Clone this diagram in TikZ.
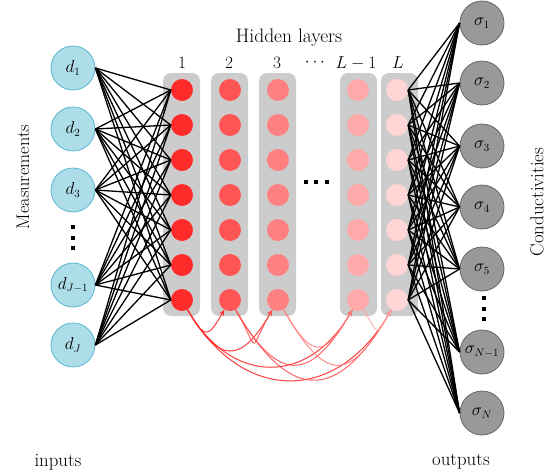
\documentclass[tikz,border=0pt]{standalone}
\usetikzlibrary{arrows.meta}
\definecolor{inblue}{RGB}{173,221,232}
\definecolor{inedge}{RGB}{91,183,210}
\definecolor{outgrey}{RGB}{153,153,153}
\definecolor{outedge}{RGB}{102,102,102}
\definecolor{colgrey}{RGB}{204,204,204}
\definecolor{hA}{RGB}{255,42,42}
\definecolor{hB}{RGB}{255,85,85}
\definecolor{hC}{RGB}{255,128,128}
\definecolor{hD}{RGB}{255,170,170}
\definecolor{hE}{RGB}{255,213,213}
\begin{document}
\begin{tikzpicture}[x=1pt,y=1pt]
\tikzstyle{every node}+=[font=\fontsize{16}{19}\selectfont]
\tikzstyle{innode}=[circle,draw=inedge,fill=inblue,minimum size=44pt,inner sep=0pt,line width=0.8pt]
\tikzstyle{outnode}=[circle,draw=outedge,fill=outgrey,minimum size=44pt,inner sep=0pt,line width=0.8pt]
\tikzstyle{hnode}=[circle,minimum size=22pt,inner sep=0pt]
\tikzstyle{colbox}=[rectangle,fill=colgrey,rounded corners=8pt,minimum width=37pt,minimum height=243pt,inner sep=0pt]
\tikzstyle{wire}=[black,line width=1.3pt]
\tikzstyle{skip}=[line width=1pt,-{Stealth[length=6pt,width=5pt]},opacity=0.9]
\tikzstyle{bigtext}=[font=\fontsize{18.8}{22}\selectfont]
\useasboundingbox (0,0) rectangle (547,-474);
% hidden layer columns
\node [colbox] (col1) at (181.5,-194.5) {};
\node [colbox] (col2) at (229.5,-194.5) {};
\node [colbox] (col3) at (277.5,-194.5) {};
\node [colbox] (col4) at (358.5,-194.5) {};
\node [colbox] (col5) at (399.5,-194.5) {};
\foreach \c/\x/\col in {1/182/hA,2/230/hB,3/278/hC,4/358/hD,5/397/hE}
  \foreach \k in {1,...,7}
    \node [hnode,fill=\col] (h\c-\k) at (\x,{-90-35*(\k-1)}) {};
% labels
\node [font=\fontsize{19.5}{23}\selectfont] (hidden) at (289,-38) {Hidden layers};
\node (lab1) at (182,-63) {$1$};
\node (lab2) at (229,-63) {$2$};
\node (lab3) at (277,-63) {$3$};
\node (labdots) at (315,-63) {$\cdots$};
\node (lab4) at (356,-63) {$L-1$};
\node (lab5) at (398,-63) {$L$};
% inputs
\node [innode] (d1) at (73,-68) {$d_1$};
\node [innode] (d2) at (73,-129) {$d_2$};
\node [innode] (d3) at (73,-190) {$d_3$};
\node [innode] (dJm) at (73,-285) {$d_{J-1}$};
\node [innode] (dJ) at (73,-345) {$d_J$};
% outputs
\node [outnode] (s1) at (482,-23) {$\sigma_1$};
\node [outnode] (s2) at (482,-83) {$\sigma_2$};
\node [outnode] (s3) at (482,-146) {$\sigma_3$};
\node [outnode] (s4) at (482,-207) {$\sigma_4$};
\node [outnode] (s5) at (482,-269) {$\sigma_5$};
\node [outnode] (sNm) at (482,-352) {$\sigma_{N-1}$};
\node [outnode] (sN) at (482,-413) {$\sigma_N$};
% dots
\foreach \y in {227,238,248} \fill [black] (70.8,-\y-2.2) rectangle (75.2,-\y+2.2);
\foreach \y in {298,309,319} \fill [black] (481.8,-\y-2.2) rectangle (486.2,-\y+2.2);
\foreach \x in {306,316,327} \fill [black] (\x-2.2,-179.8) rectangle (\x+2.2,-184.2);
% connections
\foreach \i in {d1,d2,d3,dJm,dJ}
  \foreach \k in {1,...,7}
    \draw [wire] (\i.east) -- (h1-\k.west);
\foreach \k in {1,...,7}
  \foreach \o in {s1,s2,s3,s4,s5,sNm,sN}
    \draw [wire] (h5-\k.east) -- (\o.west);
% skip connections
\foreach \a/\b/\dd/\col in {1/2/34/hA,1/3/63/hA,1/4/88/hA,1/5/109/hA,2/3/51/hB,2/4/85/hB,2/5/108/hB,3/4/57/hC,3/5/85/hC,4/5/31/hD}
  \draw [skip,\col] (h\a-7) to[out=-60,in=-120,distance=\dd pt] (h\b-7);
% side texts
\node [rotate=90,font=\fontsize{18.2}{21}\selectfont] (meas) at (23,-177) {Measurements};
\node [rotate=90,bigtext] (cond) at (537,-202) {Conductivities};
\node [bigtext] (inputs) at (58,-462) {inputs};
\node [bigtext] (outputs) at (461,-462) {outputs};
\end{tikzpicture}
\end{document}
